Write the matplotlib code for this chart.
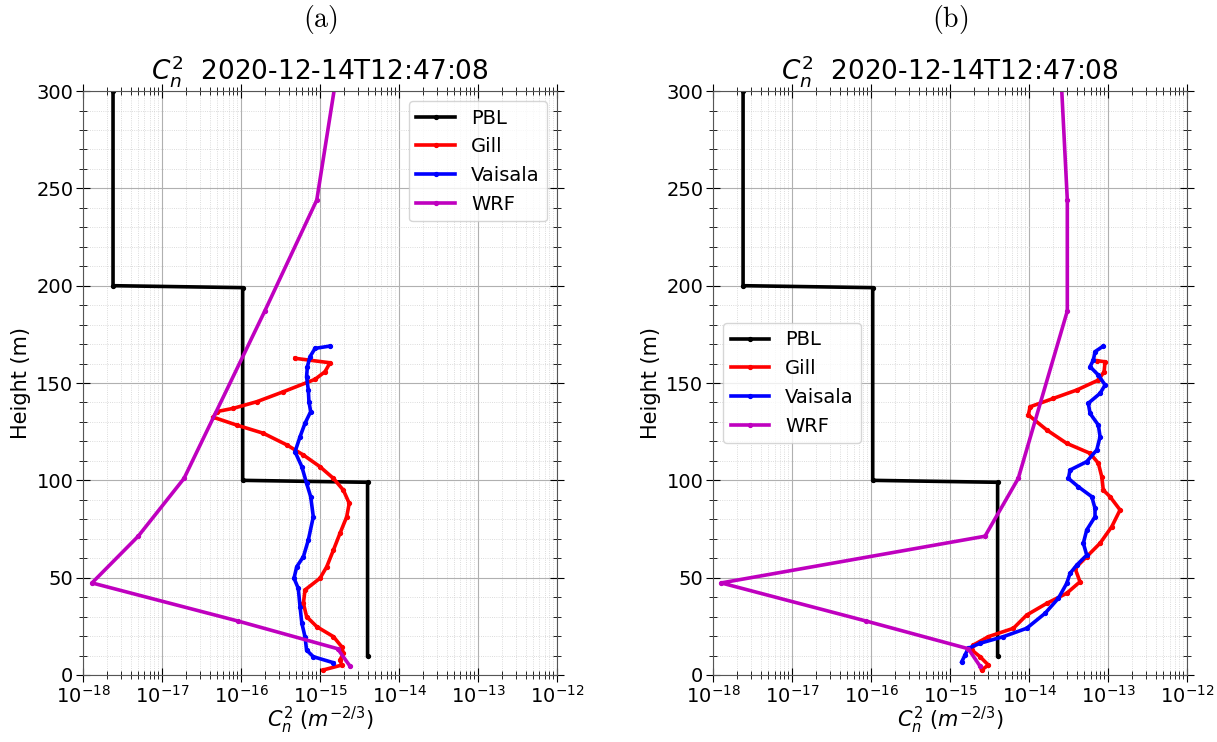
import numpy as np
import matplotlib.pyplot as plt
from matplotlib.ticker import MultipleLocator, FixedLocator, NullFormatter

# PBL step profile (same in both panels)
pbl_h = [300, 200, 199, 100, 99, 10]
pbl_c = [2.4e-18, 2.4e-18, 1.05e-16, 1.05e-16, 4.0e-15, 4.0e-15]

# WRF levels
wrf_h = [4.5, 13.5, 27.7, 47.3, 71.3, 101, 187, 244, 320]
wrf_a = [2.4e-15, 1.67e-15, 9.2e-17, 1.3e-18, 5.0e-18, 1.9e-17, 2.0e-16, 9.1e-16, 1.8e-15]
wrf_b = [2.4e-15, 1.7e-15, 8.7e-17, 1.27e-18, 2.77e-15, 7.3e-15, 3.05e-14, 3.05e-14, 2.45e-14]

# Gill (a): height, log10 Cn2
gill_a_h = [162.7, 160.4, 155.8, 151.9, 145.5, 140.4, 137.0, 135.3, 132.4, 128.4, 124.2,
            118.2, 113.0, 107.0, 101.0, 95.0, 88.2, 81.3, 72.8, 64.2, 55.6, 49.7, 43.7,
            36.8, 30.0, 24.8, 19.7, 14.5, 11.1, 7.7, 5.1, 2.6]
gill_a_x = [-15.316, -14.873, -14.937, -15.063, -15.465, -15.80, -16.097, -16.31, -16.35,
            -16.055, -15.718, -15.42, -15.21, -15.0, -14.83, -14.705, -14.63, -14.662,
            -14.747, -14.83, -14.915, -15.0, -15.19, -15.21, -15.17, -15.04, -14.83,
            -14.725, -14.705, -14.747, -14.725, -14.958]

# Vaisala (a)
vai_a_h = [169.0, 167.8, 163.5, 158.4, 153.2, 146.4, 140.4, 135.3, 129.3, 122.4, 114.7,
           107.0, 98.5, 91.6, 81.3, 69.3, 60.8, 55.6, 49.7, 44.5, 35.1, 26.6, 19.7,
           12.8, 9.4, 6.3]
vai_a_x = [-14.873, -15.063, -15.127, -15.16, -15.17, -15.148, -15.14, -15.118, -15.19,
           -15.253, -15.316, -15.23, -15.17, -15.118, -15.085, -15.148, -15.21, -15.295,
           -15.329, -15.275, -15.253, -15.23, -15.19, -15.17, -15.085, -14.83]

# Gill (b)
gill_b_h = [161.5, 160.9, 155.8, 151.5, 146.4, 142.1, 137.8, 133.6, 125.9, 119.0, 113.9,
            108.8, 101.9, 95.0, 91.6, 84.8, 76.2, 67.7, 60.8, 54.8, 47.9, 42.0, 36.8,
            30.8, 24.0, 19.7, 15.4, 12.8, 9.4, 5.1, 2.6]
gill_b_x = [-13.143, -13.038, -13.05, -13.123, -13.396, -13.692, -13.987, -14.009, -13.776,
            -13.523, -13.228, -13.123, -13.08, -13.06, -12.975, -12.848, -12.953, -13.101,
            -13.27, -13.418, -13.355, -13.523, -13.776, -14.03, -14.198, -14.515, -14.705,
            -14.725, -14.62, -14.515, -14.6]

# Vaisala (b)
vai_b_h = [169.0, 166.1, 161.8, 158.4, 154.1, 149.0, 144.7, 139.6, 134.4, 128.4, 122.4,
           115.6, 109.6, 105.3, 101.0, 96.7, 91.6, 85.6, 81.3, 74.5, 67.7, 61.6, 56.5,
           52.2, 47.1, 39.4, 31.7, 24.0, 19.7, 16.3, 13.7, 10.3, 6.8]
vai_b_x = [-13.06, -13.165, -13.186, -13.228, -13.123, -13.038, -13.101, -13.25, -13.228,
           -13.123, -13.101, -13.143, -13.27, -13.481, -13.502, -13.376, -13.206, -13.165,
           -13.165, -13.27, -13.313, -13.27, -13.396, -13.481, -13.523, -13.629, -13.797,
           -14.03, -14.325, -14.62, -14.77, -14.81, -14.852]

title = r'$C_n^2$  2020-12-14T12:47:08'
decades = np.arange(-18, -11)

fig = plt.figure(figsize=(12.17, 7.42), dpi=100)
ax1 = fig.add_axes([0.0682, 0.0903, 0.3895, 0.787])
ax2 = fig.add_axes([0.5859, 0.0903, 0.3895, 0.787])

panels = [
    (ax1, '(a)', wrf_a, gill_a_x, gill_a_h, vai_a_x, vai_a_h, 'upper right'),
    (ax2, '(b)', wrf_b, gill_b_x, gill_b_h, vai_b_x, vai_b_h, 'center left'),
]

major = 10.0 ** decades
minor = np.concatenate([np.arange(2, 10) * 10.0 ** d for d in decades[:-1]])

for ax, tag, wrf, gx, gh, vx, vh, loc in panels:
    kw = dict(lw=2.6, marker='o', ms=2.8)
    ax.plot(pbl_c, pbl_h, color='k', label='PBL', **kw)
    ax.plot(10.0 ** np.array(gx), gh, color='r', label='Gill', **kw)
    ax.plot(10.0 ** np.array(vx), vh, color='b', label='Vaisala', **kw)
    ax.plot(wrf, wrf_h, color='m', label='WRF', **kw)

    ax.set_xscale('log')
    ax.set_xlim(1e-18, 1e-12)
    ax.set_ylim(0, 300)
    ax.xaxis.set_major_locator(FixedLocator(major))
    ax.xaxis.set_minor_locator(FixedLocator(minor))
    ax.xaxis.set_minor_formatter(NullFormatter())
    ax.yaxis.set_major_locator(MultipleLocator(50))
    ax.yaxis.set_minor_locator(MultipleLocator(10))

    ax.grid(which='major', color='#b0b0b0', lw=0.8)
    ax.grid(which='minor', color='#d0d0d0', lw=0.6, ls=':')
    ax.tick_params(which='both', direction='inout', top=True, right=True, labelsize=14)
    ax.tick_params(which='major', length=10, pad=2)
    ax.tick_params(which='minor', length=6)
    for s in ax.spines.values():
        s.set_color('#555555')

    ax.set_xlabel(r'$C_n^2\ (m^{-2/3})$', fontsize=15, labelpad=-1)
    ax.set_ylabel('Height (m)', fontsize=15)
    ax.set_title(title, fontsize=19, pad=8)
    ax.text(0.5, 1.095, r'$\mathrm{' + tag + '}$', transform=ax.transAxes,
            ha='center', va='bottom', fontsize=20, math_fontfamily='cm')
    ax.legend(loc=loc, fontsize=14)

fig.savefig('out.png', dpi=100)
